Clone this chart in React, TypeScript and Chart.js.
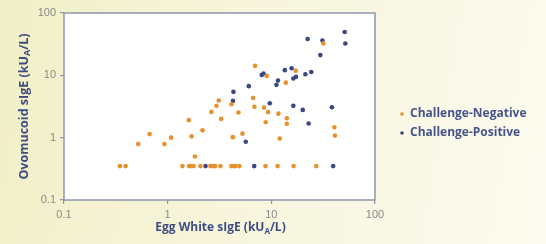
import React, { useEffect, useRef } from "react";
import { Chart, registerables } from "chart.js";

Chart.register(...registerables);

// Challenge-Negative (orange)
const negX = [
  0.52, 0.67, 0.93, 1.08, 1.6, 1.7, 1.83, 2.17, 2.64, 2.95, 3.11, 3.28, 4.13, 4.82, 4.25, 5.27,
  6.67, 6.87, 6.97, 8.5, 8.83, 9.03, 9.29, 11.7, 12.05, 13.8, 14.1, 14.1, 17.2, 31.8, 40.5, 41.1,
  0.346, 0.393, 1.39, 1.61, 1.68, 1.78, 2.07, 2.58, 2.72, 2.87, 3.23, 4.11, 4.3, 4.49, 4.91, 8.78,
  11.5, 16.4, 27.1,
];
const negY = [
  0.79, 1.14, 0.79, 1.0, 1.91, 1.05, 0.5, 1.31, 2.59, 3.24, 3.94, 2.0, 3.44, 2.54, 1.02, 1.16,
  4.32, 3.14, 14.2, 3.03, 1.77, 9.8, 2.57, 2.43, 0.97, 7.63, 2.05, 1.67, 11.8, 32.5, 1.47, 1.08,
  0.35, 0.35, 0.35, 0.35, 0.35, 0.35, 0.35, 0.35, 0.35, 0.35, 0.35, 0.35, 0.35, 0.35, 0.35, 0.35,
  0.35, 0.35, 0.35,
];

// Challenge-Positive (blue)
const posX = [
  2.32, 6.84, 39.5, 4.31, 4.27, 5.67, 6.06, 8.08, 8.39, 9.66, 11.2, 11.6, 13.5, 15.7, 16.3, 17.3,
  16.3, 20.1, 21.3, 22.4, 22.9, 24.3, 29.7, 31.1, 38.4, 51, 51.7,
];
const posY = [
  0.35, 0.35, 0.35, 5.43, 3.89, 0.86, 6.7, 10.1, 10.7, 3.57, 7.03, 8.25, 12.1, 13.0, 8.89, 9.46,
  3.24, 2.79, 10.4, 38.2, 1.69, 11.3, 21.1, 36.3, 3.08, 49.5, 32.5,
];

const seriesLabels = ["Challenge-Negative", "Challenge-Positive"];
const seriesColors = ["#e8912c", "#3b4781"];
const axisTicks = [0.1, 1, 10, 100];
const xTitle = ["Egg White sIgE (kU", "A", "/L)"];
const yTitle = ["Ovomucoid sIgE (kU", "A", "/L)"];

const TITLE_COLOR = "#3e4d82";
const FRAME_COLOR = "#8d96ad";

function drawSubTitle(ctx: CanvasRenderingContext2D, parts: string[], cx: number, cy: number, size: number) {
  const main = `bold ${size}px "Open Sans"`;
  const sub = `bold ${Math.round(size * 0.68)}px "Open Sans"`;
  ctx.font = main;
  const w1 = ctx.measureText(parts[0]).width;
  const w3 = ctx.measureText(parts[2]).width;
  ctx.font = sub;
  const w2 = ctx.measureText(parts[1]).width;
  let x = cx - (w1 + w2 + w3) / 2;
  ctx.textBaseline = "middle";
  ctx.textAlign = "left";
  ctx.fillStyle = TITLE_COLOR;
  ctx.font = main;
  ctx.fillText(parts[0], x, cy);
  x += w1;
  ctx.font = sub;
  ctx.fillText(parts[1], x, cy + size * 0.3);
  x += w2;
  ctx.font = main;
  ctx.fillText(parts[2], x, cy);
}

const decorPlugin = {
  id: "decor",
  beforeDatasetsDraw(chart: any) {
    const { ctx, chartArea } = chart;
    ctx.save();
    ctx.fillStyle = "#ffffff";
    ctx.fillRect(chartArea.left, chartArea.top, chartArea.right - chartArea.left, chartArea.bottom - chartArea.top);
    ctx.strokeStyle = FRAME_COLOR;
    ctx.lineWidth = 1.5;
    ctx.strokeRect(chartArea.left, chartArea.top, chartArea.right - chartArea.left, chartArea.bottom - chartArea.top);
    ctx.restore();
  },
  afterDraw(chart: any) {
    const { ctx, chartArea } = chart;
    ctx.save();
    drawSubTitle(ctx, xTitle, (chartArea.left + chartArea.right) / 2 + 1, 228, 12);
    ctx.translate(24, (chartArea.top + chartArea.bottom) / 2);
    ctx.rotate(-Math.PI / 2);
    drawSubTitle(ctx, yTitle, 0, 0, 12.5);
    ctx.restore();

    // legend
    ctx.save();
    const lx = 402;
    const ly = [114, 133];
    chart.data.datasets.forEach((ds: any, i: number) => {
      ctx.fillStyle = ds.backgroundColor;
      ctx.beginPath();
      ctx.arc(lx, ly[i], 1.8, 0, Math.PI * 2);
      ctx.fill();
      ctx.fillStyle = "#46558a";
      ctx.font = 'bold 12px "Open Sans"';
      ctx.textAlign = "left";
      ctx.textBaseline = "middle";
      ctx.fillText(ds.label, lx + 8, ly[i]);
    });
    ctx.restore();
  },
};

function logAxis(size: { width?: number; height?: number }) {
  return {
    type: "logarithmic" as const,
    min: 0.1,
    max: 100,
    afterBuildTicks: (s: any) => {
      s.ticks = axisTicks.map((v) => ({ value: v }));
    },
    afterFit: (s: any) => {
      if (size.width !== undefined) s.width = size.width;
      if (size.height !== undefined) s.height = size.height;
    },
    ticks: {
      autoSkip: false,
      maxRotation: 0,
      color: "#8a8a8a",
      font: { family: "Liberation Sans", size: 11 },
      padding: 4,
      callback: (v: any) => String(v),
    },
    grid: { display: true, drawOnChartArea: false, tickLength: 4, color: FRAME_COLOR, lineWidth: 1.2 },
    border: { display: false },
    title: { display: false },
  };
}

export default function App() {
  const ref = useRef<HTMLCanvasElement>(null);
  useEffect(() => {
    if (!ref.current) return;
    const chart = new Chart(ref.current, {
      type: "scatter",
      data: {
        datasets: [
          {
            label: seriesLabels[0],
            data: negX.map((x, i) => ({ x, y: negY[i] })),
            backgroundColor: seriesColors[0],
            borderWidth: 0,
            pointRadius: 2.3,
          },
          {
            label: seriesLabels[1],
            data: posX.map((x, i) => ({ x, y: posY[i] })),
            backgroundColor: seriesColors[1],
            borderWidth: 0,
            pointRadius: 2.3,
          },
        ],
      },
      options: {
        responsive: false,
        devicePixelRatio: 1,
        animation: false,
        layout: { padding: { left: 0, right: 171, top: 13, bottom: 0 } },
        plugins: { legend: { display: false }, tooltip: { enabled: false } },
        scales: {
          x: logAxis({ height: 44 }),
          y: logAxis({ width: 64 }),
        },
      },
      plugins: [decorPlugin],
    });
    return () => chart.destroy();
  }, []);
  return (
    <div
      style={{
        position: "fixed",
        left: 0,
        top: 0,
        width: 546,
        height: 244,
        background: "linear-gradient(100deg, #f1efc6 0%, #f7f5dc 45%, #fcfbef 100%)",
      }}
    >
      <canvas ref={ref} width={546} height={244} style={{ display: "block" }} />
    </div>
  );
}
